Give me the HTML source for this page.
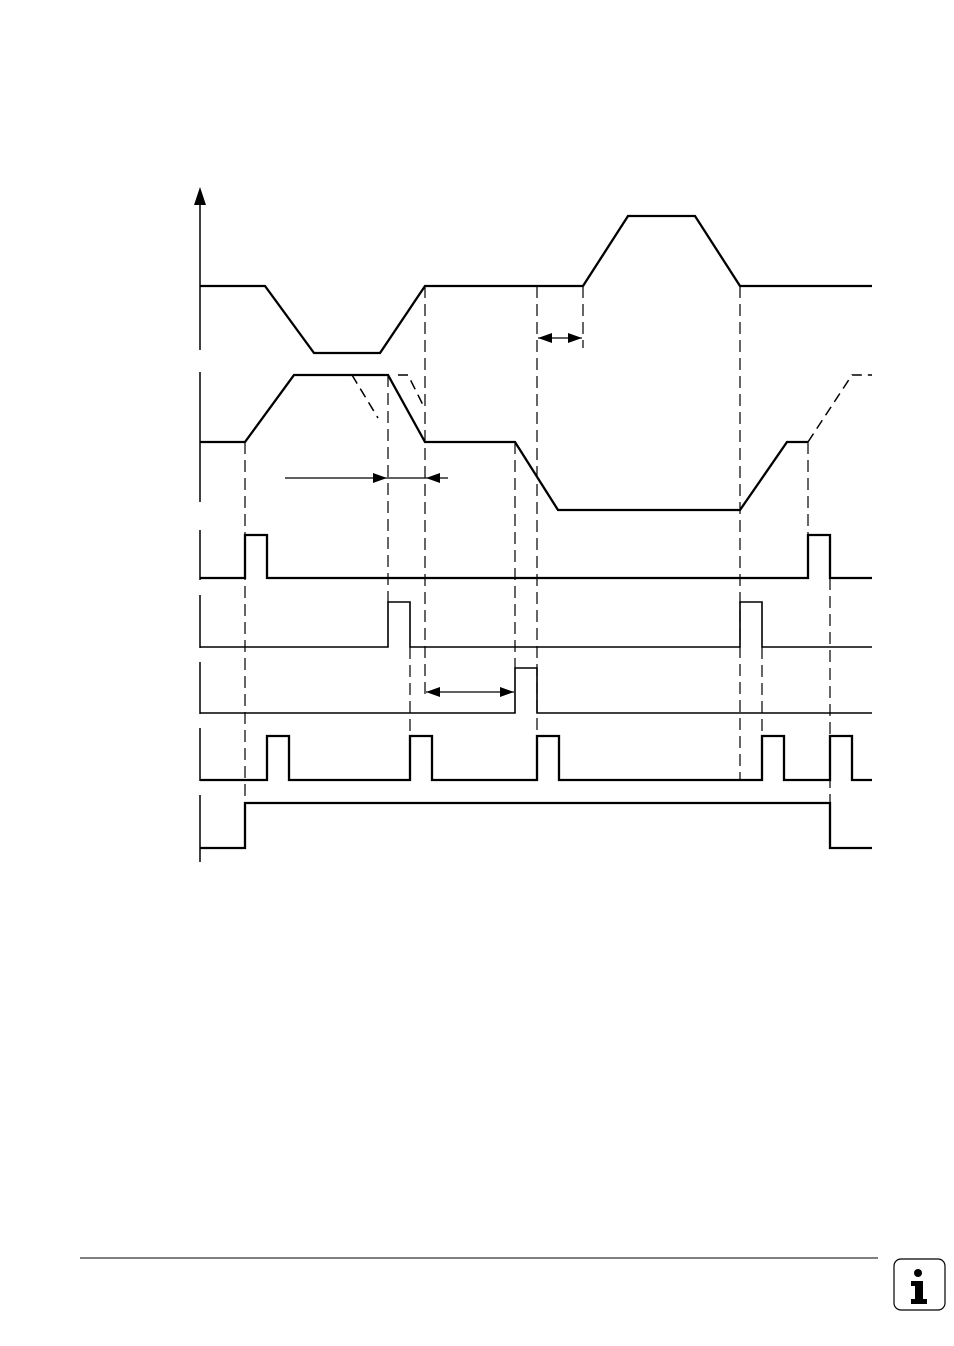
<!DOCTYPE html>
<html><head><meta charset="utf-8"><style>body{margin:0;background:#fff}svg{display:block}</style></head><body>
<svg width="954" height="1346" viewBox="0 0 954 1346" xmlns="http://www.w3.org/2000/svg">
<g stroke="#000" fill="none">
<line x1="200" y1="205" x2="200" y2="350" stroke-width="1.5"/>
<path d="M194,205 L200,187 L206,205z" fill="#000" stroke="none"/>
<line x1="200" y1="372" x2="200" y2="502" stroke-width="1.5"/>
<line x1="200" y1="530" x2="200" y2="580" stroke-width="1.5"/>
<line x1="200" y1="595" x2="200" y2="648" stroke-width="1.5"/>
<line x1="200" y1="662" x2="200" y2="714" stroke-width="1.5"/>
<line x1="200" y1="728" x2="200" y2="781" stroke-width="1.5"/>
<line x1="200" y1="795" x2="200" y2="862" stroke-width="1.5"/>
<g stroke-width="2.3">
<polyline points="200,286 265,286 314,353 380,353 425,286 583,286 628,216 695,216 740,286 872,286"/>
<polyline points="200,442 245,442 294,375 388,375 425,442 515,442 558,510 740,510 787,442 808,442"/>
<polyline points="200,578 245,578 245,535 267,535 267,578 808,578 808,535 830,535 830,578 872,578"/>
<polyline points="200,780 267,780 267,736 289,736 289,780 410,780 410,736 432,736 432,780 537,780 537,736 559,736 559,780 762,780 762,736 784,736 784,780 830,780 830,736 852,736 852,780 872,780"/>
<polyline points="200,848 245,848 245,803 830,803 830,848 872,848"/>
</g>
<g stroke-width="1.6">
<polyline points="200,647 388,647 388,602 410,602 410,647 740,647 740,602 762,602 762,647 872,647"/>
<polyline points="200,713 515,713 515,668 537,668 537,713 872,713"/>
</g>
<g stroke-width="1.5" stroke-dasharray="10,6">
<polyline points="808,442 852,375 872,375"/>
<line x1="352" y1="375" x2="378" y2="418"/>
<polyline points="398,375 408,375 423,405"/>
</g>
<g stroke-width="1.2" stroke-dasharray="12,6">
<line x1="245" y1="442" x2="245" y2="848"/>
<line x1="388" y1="375" x2="388" y2="602"/>
<line x1="425" y1="286" x2="425" y2="700"/>
<line x1="410" y1="647" x2="410" y2="780"/>
<line x1="515" y1="442" x2="515" y2="668"/>
<line x1="537" y1="286" x2="537" y2="736"/>
<line x1="583" y1="286" x2="583" y2="348"/>
<line x1="740" y1="286" x2="740" y2="780"/>
<line x1="762" y1="647" x2="762" y2="780"/>
<line x1="808" y1="442" x2="808" y2="578"/>
<line x1="830" y1="578" x2="830" y2="803"/>
</g>
<g stroke-width="1.2">
<line x1="285" y1="478" x2="448" y2="478"/>
<line x1="538" y1="338" x2="582" y2="338"/>
<line x1="426" y1="692" x2="514" y2="692"/>
</g>
<line x1="80" y1="1258" x2="878" y2="1258" stroke-width="1"/>
<rect x="894" y="1259" width="51" height="51" rx="7" stroke-width="1.2"/>
</g>
<g fill="#000">
<path d="M387,478 L373,473 L373,483z"/>
<path d="M426,478 L440,473 L440,483z"/>
<path d="M538,338 L552,333 L552,343z"/>
<path d="M582,338 L568,333 L568,343z"/>
<path d="M426,692 L440,687 L440,697z"/>
<path d="M514,692 L500,687 L500,697z"/>
</g>
<circle cx="918" cy="1273" r="4" fill="#000"/>
<path d="M911,1281 h12 v18 h4 v5 h-16 v-5 h4 v-13 h-4z" fill="#000"/>
</svg>
</body></html>
